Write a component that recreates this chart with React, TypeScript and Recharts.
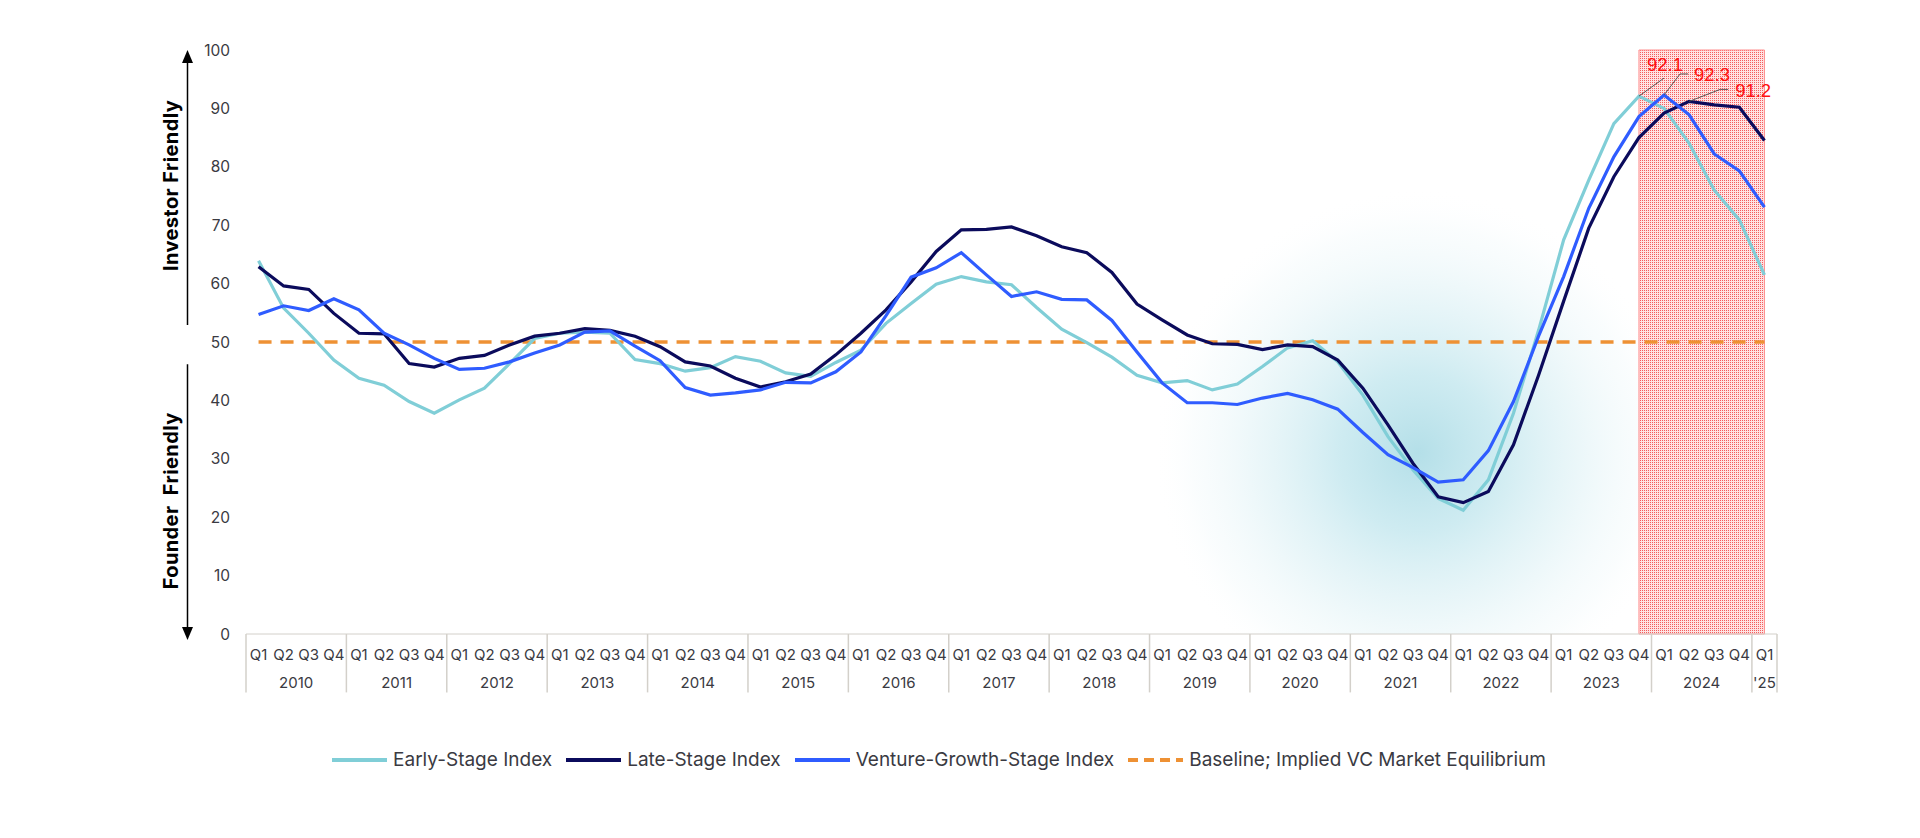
import React from "react";
import {
  LineChart,
  Line,
  XAxis,
  YAxis,
  Legend,
  ReferenceArea,
  ReferenceDot,
  ReferenceLine
} from "recharts";

// categories
const YEAR_LABELS = ["2010", "2011", "2012", "2013", "2014", "2015", "2016", "2017", "2018", "2019", "2020", "2021", "2022", "2023", "2024", "'25"];
const QUARTER_LABELS = ["Q1", "Q2", "Q3", "Q4"];
const QUARTERS_SHOWN = [4, 4, 4, 4, 4, 4, 4, 4, 4, 4, 4, 4, 4, 4, 4, 1];

// index values, one per quarter (2010 Q1 .. 2025 Q1)
const EARLY_STAGE = [
  63.9, 55.8, 51.5, 46.9,
  43.8, 42.6, 39.8, 37.8,
  40.1, 42.1, 46.3, 50.6,
  51.5, 51.7, 51.5, 47.0,
  46.3, 45.0, 45.6, 47.5,
  46.7, 44.7, 44.1, 46.5,
  48.6, 53.2, 56.6, 59.9,
  61.2, 60.3, 59.8, 55.9,
  52.2, 49.9, 47.4, 44.3,
  43.0, 43.4, 41.8, 42.8,
  45.8, 49.0, 50.2, 46.6,
  40.9, 33.8, 28.1, 23.2,
  21.2, 26.4, 37.8, 52.0,
  67.5, 77.7, 87.4, 92.1,
  90.0, 84.0, 76.0, 70.9,
  61.5
];

const LATE_STAGE = [
  62.9, 59.6, 59.0, 54.9,
  51.5, 51.4, 46.3, 45.7,
  47.2, 47.7, 49.5, 51.0,
  51.5, 52.3, 52.0, 51.0,
  49.2, 46.6, 45.9, 43.8,
  42.3, 43.2, 44.5, 47.8,
  51.5, 55.5, 60.3, 65.5,
  69.2, 69.3, 69.7, 68.2,
  66.3, 65.3, 61.9, 56.5,
  53.8, 51.2, 49.7, 49.6,
  48.7, 49.5, 49.2, 46.9,
  42.1, 35.8, 29.2, 23.5,
  22.5, 24.4, 32.4, 44.3,
  57.0, 69.5, 78.3, 85.0,
  89.2, 91.2, 90.6, 90.2,
  84.5
];

const VENTURE_GROWTH = [
  54.7, 56.2, 55.4, 57.4,
  55.5, 51.5, 49.5, 47.2,
  45.3, 45.5, 46.6, 48.1,
  49.5, 51.7, 51.9, 49.3,
  46.8, 42.2, 40.9, 41.3,
  41.8, 43.1, 43.0, 44.9,
  48.3, 54.5, 61.1, 62.7,
  65.3, 61.5, 57.8, 58.6,
  57.3, 57.2, 53.7, 48.3,
  43.0, 39.6, 39.6, 39.3,
  40.4, 41.2, 40.1, 38.5,
  34.5, 30.7, 28.5, 26.0,
  26.4, 31.4, 39.8, 51.0,
  61.2, 72.9, 81.7, 88.6,
  92.3, 88.9, 82.2, 79.3,
  73.1
];

const BASELINE = 50;
const Y_TICKS = [0, 10, 20, 30, 40, 50, 60, 70, 80, 90, 100];

const HIGHLIGHT_FROM = "2023 Q4";
const HIGHLIGHT_TO = "'25 Q1";
const GLOW_PERIOD = "2021 Q3";

const FONT = "Inter, 'Noto Sans', sans-serif";
const TEXT = "#3a3a42";
const GRID = "#d3d0ca";

const SERIES = [
  { key: "early", name: "Early-Stage Index", color: "#80ced7", callout: "2023 Q4", leader: [25, -18, 0], text: [8, -25] },
  { key: "late", name: "Late-Stage Index", color: "#0b0b5c", callout: "2024 Q2", leader: [31, -12, 8], text: [46, -4] },
  { key: "growth", name: "Venture-Growth-Stage Index", color: "#2f5cff", callout: "2024 Q1", leader: [16, -21, 8], text: [30, -14] }
];
const BASELINE_STYLE = { name: "Baseline; Implied VC Market Equilibrium", color: "#ee9134" };

const PERIODS: { period: string; year: string; quarter: string; yearIdx: number }[] = [];
YEAR_LABELS.forEach((year, yi) => {
  QUARTER_LABELS.slice(0, QUARTERS_SHOWN[yi]).forEach(q => {
    PERIODS.push({ period: `${year} ${q}`, year, quarter: q, yearIdx: yi });
  });
});

const data = PERIODS.map((p, i) => ({
  idx: i,
  period: p.period,
  quarter: p.quarter,
  early: EARLY_STAGE[i],
  late: LATE_STAGE[i],
  growth: VENTURE_GROWTH[i],
  baseline: BASELINE
}));

const idxOf = (period: string) => PERIODS.findIndex(p => p.period === period);

// year groups: centre tick and boundaries for the separators
const yearGroups = YEAR_LABELS.map((year, yi) => {
  const ids = data.filter((_, i) => PERIODS[i].yearIdx === yi).map(d => d.idx);
  return { year, center: (ids[0] + ids[ids.length - 1]) / 2, start: ids[0] - 0.5, end: ids[ids.length - 1] + 0.5 };
});
const separators = Array.from(new Set(yearGroups.flatMap(g => [g.start, g.end])));

const QuarterTick = (props: any) => {
  const { x, y, payload } = props;
  return (
    <text x={x} y={y + 11} textAnchor="middle" fill={TEXT} fontSize={15} fontFamily={FONT}>
      {data[payload.value]?.quarter}
    </text>
  );
};

const YearTick = (props: any) => {
  const { x, y, payload } = props;
  const g = yearGroups.find(item => item.center === payload.value);
  return (
    <text x={x} y={y + 11} textAnchor="middle" fill={TEXT} fontSize={15} fontFamily={FONT}>
      {g?.year}
    </text>
  );
};

// vertical "Investor Friendly / Founder Friendly" arrows next to the value axis
const AxisTitles = (props: any) => {
  const { x, y, height } = props.viewBox;
  const ax = x + 31.5;
  const tx = x + 22;
  const at = (f: number) => y + height * f;
  const titleStyle = { fontSize: 20, fontWeight: 700, fill: "#000", fontFamily: FONT, letterSpacing: 0.4 };
  return (
    <g>
      <line x1={ax} x2={ax} y1={y + 10} y2={at(0.471)} stroke="#000" strokeWidth={1.5} />
      <line x1={ax} x2={ax} y1={at(0.538)} y2={y + height - 4} stroke="#000" strokeWidth={1.5} />
      <path d={`M${ax} ${y} L${ax - 5.5} ${y + 13} L${ax + 5.5} ${y + 13} Z`} fill="#000" />
      <path d={`M${ax} ${y + height + 6} L${ax - 5.5} ${y + height - 7} L${ax + 5.5} ${y + height - 7} Z`} fill="#000" />
      <text x={tx} y={at(0.232)} transform={`rotate(-90 ${tx} ${at(0.232)})`} textAnchor="middle" {...titleStyle}>
        Investor Friendly
      </text>
      <text x={tx} y={at(0.772)} transform={`rotate(-90 ${tx} ${at(0.772)})`} textAnchor="middle" {...titleStyle} style={{ whiteSpace: "pre" }}>
        {"Founder  Friendly"}
      </text>
    </g>
  );
};

const makeCallout = (s: typeof SERIES[number]) => (props: any) => {
  const { x, y, value, index } = props;
  if (data[index]?.period !== s.callout) return null;
  const [lx, ly, lh] = s.leader;
  return (
    <g>
      <polyline points={`${x},${y} ${x + lx},${y + ly} ${x + lx + lh},${y + ly}`} fill="none" stroke="#555" strokeWidth={1} />
      <text x={x + s.text[0]} y={y + s.text[1]} fill="#ff1010" fontSize={18.5} fontFamily="'Liberation Sans', Arial, sans-serif">
        {Number(value).toFixed(1)}
      </text>
    </g>
  );
};

const renderLegend = () => (
  <div style={{ display: "flex", justifyContent: "center", alignItems: "center", paddingRight: 42, fontFamily: FONT, fontSize: 19, color: TEXT }}>
    {[...SERIES.map(s => ({ name: s.name, color: s.color, dashed: false })), { ...BASELINE_STYLE, dashed: true }].map((item, i) => (
      <div key={item.name} style={{ display: "flex", alignItems: "center", marginLeft: i === 0 ? 0 : 14 }}>
        <svg width={55} height={6} style={{ marginRight: 6 }}>
          <line x1={0} x2={55} y1={3} y2={3} stroke={item.color} strokeWidth={4} strokeDasharray={item.dashed ? "10 6" : undefined} />
        </svg>
        <span>{item.name}</span>
      </div>
    ))}
  </div>
);

export default function App() {
  const highlightFrom = idxOf(HIGHLIGHT_FROM);
  const highlightTo = idxOf(HIGHLIGHT_TO);
  const glowX = idxOf(GLOW_PERIOD) + 0.2;

  return (
    <div style={{ position: "absolute", left: 0, top: 0, width: 1920, height: 838, background: "#fff" }}>
      <LineChart width={1920} height={838} data={data} margin={{ top: 50, right: 143, left: 156, bottom: 118 }}>
        <defs>
          <radialGradient id="glow">
            <stop offset="0%" stopColor="#b4dfe8" stopOpacity={1} />
            <stop offset="30%" stopColor="#c6e8ef" stopOpacity={0.85} />
            <stop offset="60%" stopColor="#ddf1f5" stopOpacity={0.6} />
            <stop offset="85%" stopColor="#eef8fa" stopOpacity={0.3} />
            <stop offset="100%" stopColor="#ffffff" stopOpacity={0} />
          </radialGradient>
          <pattern id="dots" width={2} height={2} patternUnits="userSpaceOnUse">
            <rect width={2} height={2} fill="#ffe3e3" />
            <rect width={1} height={1} fill="#f45d5d" />
          </pattern>
        </defs>

        <XAxis
          type="number"
          dataKey="idx"
          domain={[-0.5, data.length - 0.5]}
          ticks={data.map(d => d.idx)}
          interval={0}
          tick={<QuarterTick />}
          tickLine={false}
          tickMargin={9}
          axisLine={{ stroke: GRID }}
          height={28}
        />
        <XAxis
          xAxisId="yr"
          type="number"
          dataKey="idx"
          domain={[-0.5, data.length - 0.5]}
          ticks={yearGroups.map(g => g.center)}
          interval={0}
          tick={<YearTick />}
          tickLine={false}
          tickMargin={9}
          axisLine={false}
          height={28}
        />
        <YAxis
          domain={[0, 100]}
          ticks={Y_TICKS}
          interval={0}
          width={90}
          axisLine={false}
          tickLine={false}
          tickMargin={10}
          tick={{ fill: TEXT, fontSize: 15.5, fontFamily: FONT }}
          label={(p: any) => <AxisTitles {...p} />}
        />

        <ReferenceDot x={glowX} y={31} r={265} fill="url(#glow)" stroke="none" ifOverflow="hidden" zIndex={-20} />
        <ReferenceArea
          x1={highlightFrom}
          x2={highlightTo}
          y1={0}
          y2={100}
          fill="url(#dots)"
          fillOpacity={1}
          stroke="#ff8f8f"
          strokeWidth={1}
          ifOverflow="visible"
          zIndex={-10}
        />
        {separators.map(s => (
          <ReferenceLine
            key={s}
            segment={[{ x: s, y: 0 }, { x: s, y: -10 }]}
            stroke={GRID}
            strokeWidth={1.5}
            ifOverflow="visible"
          />
        ))}

        <Line
          type="linear"
          dataKey="baseline"
          name={BASELINE_STYLE.name}
          stroke={BASELINE_STYLE.color}
          strokeWidth={3.5}
          strokeDasharray="13 9"
          dot={false}
          activeDot={false}
          isAnimationActive={false}
        />
        {SERIES.map(s => (
          <Line
            key={s.key}
            type="linear"
            dataKey={s.key}
            name={s.name}
            stroke={s.color}
            strokeWidth={3.2}
            dot={false}
            activeDot={false}
            isAnimationActive={false}
            label={makeCallout(s)}
          />
        ))}

        <Legend verticalAlign="bottom" content={renderLegend} wrapperStyle={{ left: 0, width: 1920, top: 748, height: 30 }} />
      </LineChart>
    </div>
  );
}
